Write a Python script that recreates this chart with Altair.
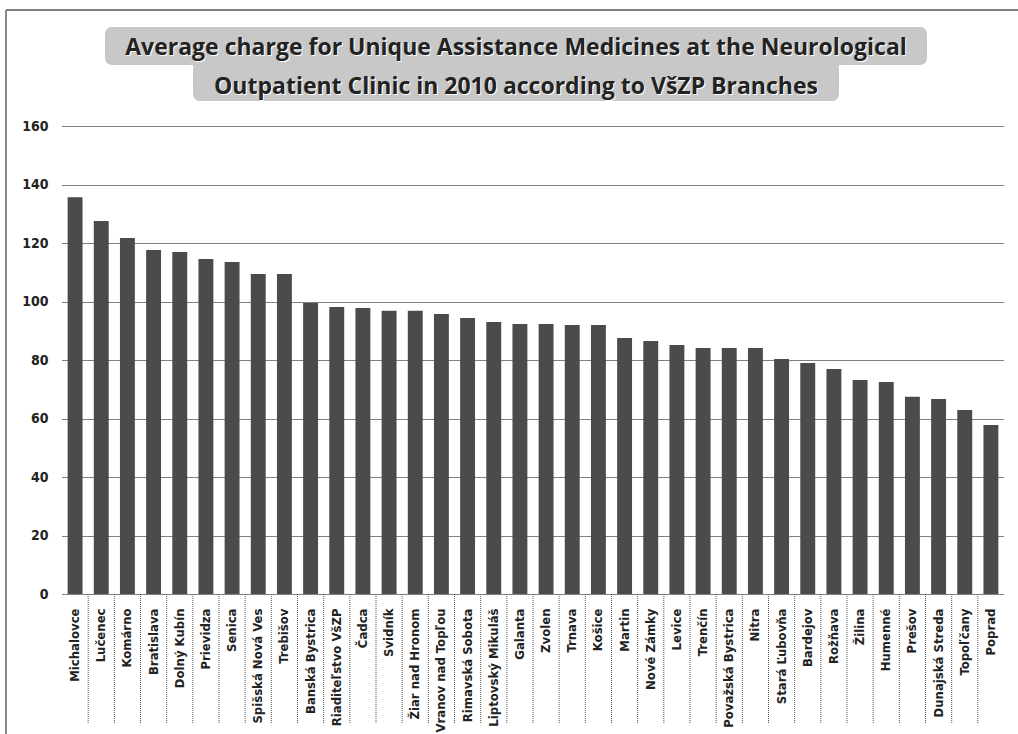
import altair as alt
import pandas as pd

branches = ["Michalovce", "Lučenec", "Komárno", "Bratislava", "Dolný Kubín", "Prievidza",
            "Senica", "Spišská Nová Ves", "Trebišov", "Banská Bystrica", "Riaditeľstvo VšZP",
            "Čadca", "Svidník", "Žiar nad Hronom", "Vranov nad Topľou", "Rimavská Sobota",
            "Liptovský Mikuláš", "Galanta", "Zvolen", "Trnava", "Košice", "Martin",
            "Nové Zámky", "Levice", "Trenčín", "Považská Bystrica", "Nitra", "Stará Ľubovňa",
            "Bardejov", "Rožňava", "Žilina", "Humenné", "Prešov", "Dunajská Streda",
            "Topoľčany", "Poprad"]
charges = [135.6, 127.5, 121.7, 117.6, 116.9, 114.5, 113.5, 109.4, 109.4, 99.5, 98.1,
           97.8, 96.8, 96.8, 95.7, 94.4, 93.0, 92.3, 92.3, 92.0, 92.0, 87.5,
           86.5, 85.1, 84.1, 84.1, 84.1, 80.3, 79.0, 76.9, 73.2, 72.5, 67.4, 66.7,
           62.9, 57.8]
y_ticks = [0, 20, 40, 60, 80, 100, 120, 140, 160]
title_lines = ["Average charge for Unique Assistance Medicines at the Neurological",
               "Outpatient Clinic in 2010 according to VšZP Branches"]

df = pd.DataFrame({"branch": branches, "charge": charges})
div_df = pd.DataFrame({"branch": branches[1:]})

W, H = 942, 468
STEP = W / len(branches)
FONT = "'Liberation Sans Narrow', 'DejaVu Sans Condensed', 'Roboto', sans-serif"

xscale = alt.Scale(paddingInner=0.43, paddingOuter=0.215)

bars = alt.Chart(df).mark_bar(color="#4a4b4d").encode(
    x=alt.X("branch:N", sort=None, scale=xscale,
            axis=alt.Axis(title=None, labelAngle=-90, labelAlign="right", labelBaseline="middle",
                          ticks=False, domain=False, labelPadding=14, labelFont=FONT,
                          labelFontSize=13, labelFontWeight="bold", labelColor="#222222",
                          labelOverlap=False, labelLimit=200)),
    y=alt.Y("charge:Q", scale=alt.Scale(domain=[0, 160], nice=False),
            axis=alt.Axis(title=None, values=y_ticks, ticks=False, domain=False,
                          grid=True, gridDash=[1, 1], gridColor="#000000", gridWidth=1,
                          gridOpacity=1,
                          labelPadding=14, labelFont=FONT, labelFontSize=14,
                          labelFontWeight="bold", labelColor="#222222")),
)

dividers = alt.Chart(div_df).mark_rule(color="#555555", strokeDash=[1, 1], strokeWidth=1,
                                       xOffset=-STEP / 2).encode(
    x=alt.X("branch:N", sort=branches, scale=xscale),
    y=alt.value(H),
    y2=alt.value(H + 129),
)

one = alt.Data(values=[{}])

box1 = alt.Chart(one).mark_rect(color="#c8c8c8", cornerRadius=7).encode(
    x=alt.value(105 - 62), x2=alt.value(927 - 62), y=alt.value(27 - 126), y2=alt.value(65 - 126))
box2 = alt.Chart(one).mark_rect(color="#c8c8c8", cornerRadius=7).encode(
    x=alt.value(193 - 62), x2=alt.value(839 - 62), y=alt.value(60 - 126), y2=alt.value(101 - 126))

def title_text(txt, y, color, dx=0, dy=0):
    return alt.Chart(one).mark_text(text=txt, font="Open Sans", fontSize=23, fontWeight="bold",
                                    color=color, align="center", baseline="alphabetic",
                                    dx=dx, dy=dy).encode(
        x=alt.value(454), y=alt.value(y))

t1s = title_text(title_lines[0], 55 - 126, "#ffffff", 1, 1)
t2s = title_text(title_lines[1], 94 - 126, "#ffffff", 1, 1)
t1 = title_text(title_lines[0], 55 - 126, "#222222")
t2 = title_text(title_lines[1], 94 - 126, "#222222")

frame_top = alt.Chart(one).mark_rule(color="#555555", strokeWidth=1.5).encode(
    x=alt.value(6 - 62), x2=alt.value(1018 - 62), y=alt.value(10 - 126))
frame_left = alt.Chart(one).mark_rule(color="#888888", strokeWidth=2).encode(
    x=alt.value(6 - 62), y=alt.value(10 - 126), y2=alt.value(734 - 126))

chart = alt.layer(frame_top, frame_left, box1, box2, t1s, t2s, t1, t2, bars, dividers).properties(
    width=W, height=H,
    autosize=alt.AutoSizeParams(type="none"),
    padding={"left": 62, "top": 126, "right": 14, "bottom": 140},
    background="white",
).configure_view(stroke=None)

chart.save("out.html", embed_options={"renderer": "svg", "actions": False})
